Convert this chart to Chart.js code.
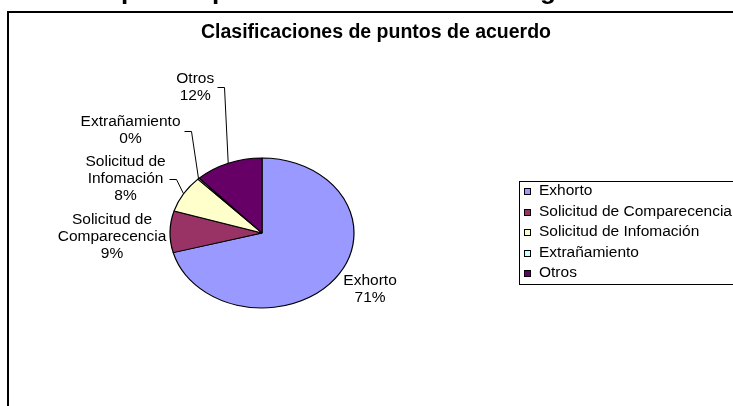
<!DOCTYPE html>
<html>
<head>
<meta charset="utf-8">
<script src="https://cdn.jsdelivr.net/npm/chart.js@4.4.0/dist/chart.umd.min.js"></script>
<style>
  html, body { margin: 0; padding: 0; background: #fff; }
  #wrap { width: 733px; height: 406px; }
</style>
</head>
<body>
<div id="wrap"><canvas id="pie" width="733" height="406"></canvas></div>
<script>
const categories = ["Exhorto", "Solicitud de Comparecencia", "Solicitud de Infomación", "Extrañamiento", "Otros"];
const values = [71, 9, 8, 0.3, 12];
const colors = ["#9999FF", "#993366", "#FFFFCC", "#CCFFFF", "#660066"];
const chartTitle = "Clasificaciones de puntos de acuerdo";
const pageTitle = "Tipos de puntos de acuerdo en la legislatura";

const FONT = '"Liberation Sans", Arial, sans-serif';

/* white page, clipped heading above and the chart frame */
const frame = {
  id: "frame",
  beforeDraw(chart) {
    const ctx = chart.ctx;
    ctx.save();
    ctx.fillStyle = "#fff";
    ctx.fillRect(0, 0, chart.width, chart.height);
    ctx.fillStyle = "#000";
    ctx.font = "bold 26px " + FONT;
    ctx.textAlign = "left";
    ctx.textBaseline = "alphabetic";
    // only the descenders of this heading peek out below the top edge
    const startX = 123 - ctx.measureText("Ti").width - 2;
    ctx.fillText(pageTitle, startX, -1);
    ctx.strokeStyle = "#000";
    ctx.lineWidth = 2;
    ctx.strokeRect(8, 12, 800, 500);
    ctx.font = "bold 19.5px " + FONT;
    ctx.textAlign = "center";
    ctx.textBaseline = "middle";
    ctx.fillText(chartTitle, 376, 33);
    ctx.restore();
  }
};

/* stretch the round pie into the ellipse of the original */
const ellipse = {
  id: "ellipse",
  beforeDatasetsDraw(chart, args, opts) {
    const arc = chart.getDatasetMeta(0).data[0];
    const ctx = chart.ctx;
    ctx.save();
    ctx.translate(arc.x, arc.y);
    ctx.scale(opts.stretch, 1);
    ctx.translate(-arc.x, -arc.y);
  },
  afterDatasetsDraw(chart) {
    chart.ctx.restore();
  }
};

/* name + percent labels, with leader lines for the far ones */
const sliceLabels = {
  id: "sliceLabels",
  afterDraw(chart, args, opts) {
    const ctx = chart.ctx;
    const meta = chart.getDatasetMeta(0);
    const total = values.reduce((a, b) => a + b, 0);
    ctx.save();
    ctx.font = opts.font;
    ctx.fillStyle = "#000";
    ctx.strokeStyle = "#000";
    ctx.lineWidth = 1;
    ctx.textAlign = "center";
    ctx.textBaseline = "middle";
    meta.data.forEach((arc, i) => {
      const mid = (arc.startAngle + arc.endAngle) / 2;
      const ax = arc.x + arc.outerRadius * opts.stretch * Math.cos(mid);
      const ay = arc.y + arc.outerRadius * Math.sin(mid);
      const lines = categories[i].replace("Solicitud de ", "Solicitud de\n").split("\n");
      lines.push(Math.round(values[i] / total * 100) + "%");
      const cx = ax + opts.offsets[i][0];
      const cy = ay + opts.offsets[i][1];
      const top = cy - (lines.length - 1) * opts.lineHeight / 2;
      let w = 0;
      lines.forEach((t, k) => {
        ctx.fillText(t, cx, top + k * opts.lineHeight);
        w = Math.max(w, ctx.measureText(t).width);
      });
      if (opts.leaders[i]) {
        const sx = Math.round(cx + w / 2 + 3) + 0.5;
        ctx.beginPath();
        ctx.moveTo(sx, Math.round(cy) + 0.5);
        ctx.lineTo(sx + 7, Math.round(cy) + 0.5);
        ctx.lineTo(ax, ay);
        ctx.stroke();
      }
    });
    ctx.restore();
  }
};

/* boxed legend on the right, running off the edge like the original */
const boxLegend = {
  id: "boxLegend",
  afterDraw(chart, args, opts) {
    const ctx = chart.ctx;
    ctx.save();
    ctx.strokeStyle = "#000";
    ctx.lineWidth = 1;
    ctx.strokeRect(opts.x + 0.5, opts.y + 0.5, 400, opts.height);
    ctx.font = opts.font;
    ctx.textBaseline = "middle";
    ctx.textAlign = "left";
    categories.forEach((name, i) => {
      const cy = opts.y + opts.first + i * opts.step;
      ctx.fillStyle = colors[i];
      ctx.fillRect(opts.x + 5, Math.round(cy) - 3, 6, 6);
      ctx.strokeRect(opts.x + 5.5, Math.round(cy) - 2.5, 6, 6);
      ctx.fillStyle = "#000";
      ctx.fillText(name, opts.x + 20, cy);
    });
    ctx.restore();
  }
};

new Chart(document.getElementById("pie"), {
  type: "pie",
  data: {
    labels: categories,
    datasets: [{
      data: values,
      backgroundColor: colors,
      borderColor: "#000",
      borderWidth: 1
    }]
  },
  options: {
    responsive: false,
    animation: false,
    events: [],
    radius: 75,
    layout: { padding: { left: 187, right: 396, top: 158, bottom: 98 } },
    plugins: {
      legend: { display: false },
      tooltip: { enabled: false },
      ellipse: { stretch: 92 / 75 },
      sliceLabels: {
        stretch: 92 / 75,
        font: "15.5px " + FONT,
        lineHeight: 17,
        offsets: [[35, 11], [-58, 5], [-58, -15], [-68, -48], [-33, -76]],
        leaders: [false, false, true, true, true]
      },
      boxLegend: { x: 519, y: 181, height: 103, first: 10, step: 20.5, font: "15.5px " + FONT }
    }
  },
  plugins: [frame, ellipse, sliceLabels, boxLegend]
});
</script>
</body>
</html>
